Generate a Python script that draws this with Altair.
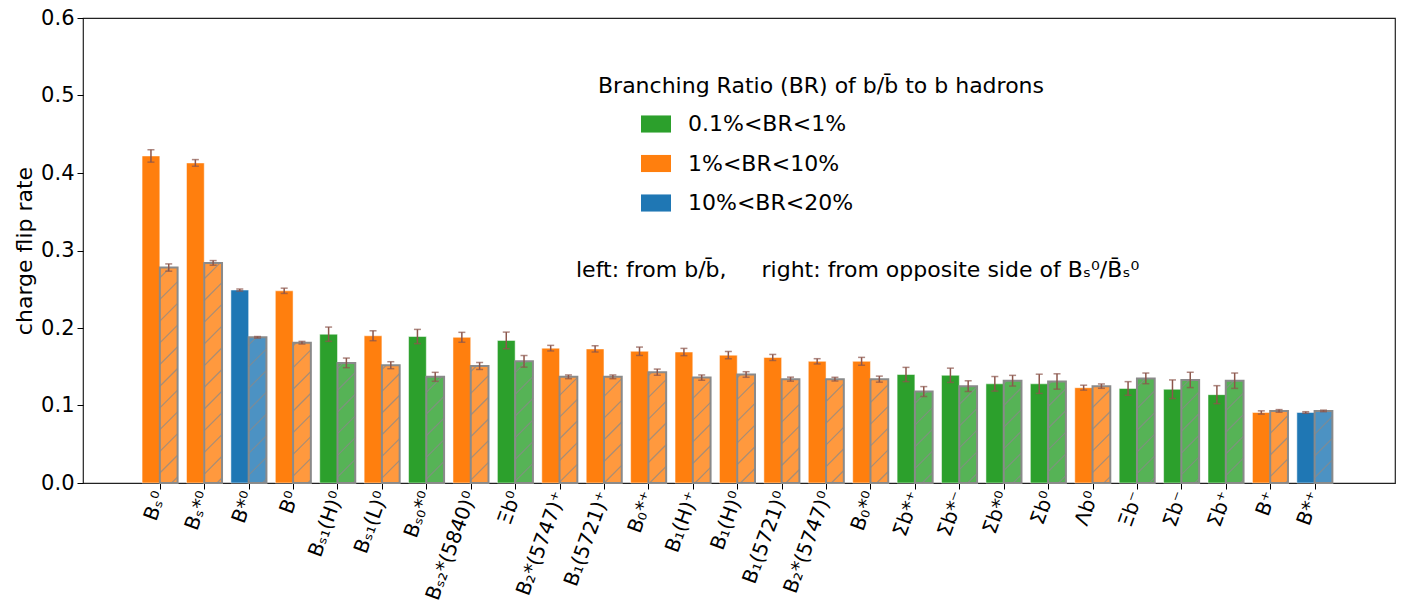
import json
import altair as alt
import pandas as pd

# ---------------- data ----------------
labels = ["Bₛ⁰", "Bₛ*⁰", "B*⁰", "B⁰", "Bₛ₁(H)⁰", "Bₛ₁(L)⁰", "Bₛ₀*⁰", "Bₛ₂*(5840)⁰",
          "Ξb⁰", "B₂*(5747)⁺", "B₁(5721)⁺", "B₀*⁺", "B₁(H)⁺", "B₁(H)⁰", "B₁(5721)⁰",
          "B₂*(5747)⁰", "B₀*⁰", "Σb*⁺", "Σb*⁻", "Σb*⁰", "Σb⁰", "Λb⁰", "Ξb⁻", "Σb⁻",
          "Σb⁺", "B⁺", "B*⁺"]
G, O, B = "0.1%<BR<1%", "1%<BR<10%", "10%<BR<20%"
br_class = [O, O, B, O, G, O, G, O, G, O, O, O, O, O, O, O, O, G, G, G, G, O, G, G, G, O, B]
left_vals = [0.422, 0.413, 0.249, 0.248, 0.192, 0.190, 0.189, 0.188, 0.184, 0.174, 0.173,
             0.170, 0.169, 0.165, 0.162, 0.157, 0.157, 0.140, 0.139, 0.128, 0.128, 0.123,
             0.122, 0.121, 0.114, 0.091, 0.091]
left_errs = [0.008, 0.0043, 0.0013, 0.0034, 0.0092, 0.0064, 0.0092, 0.0064, 0.0107, 0.0036,
             0.004, 0.0054, 0.0047, 0.0047, 0.0039, 0.0034, 0.0051, 0.0092, 0.0092, 0.0094,
             0.0124, 0.0032, 0.0088, 0.012, 0.0116, 0.0021, 0.001]
right_vals = [0.278, 0.284, 0.188, 0.181, 0.155, 0.152, 0.137, 0.151, 0.157, 0.137, 0.137,
              0.143, 0.136, 0.140, 0.134, 0.134, 0.134, 0.118, 0.125, 0.132, 0.131, 0.125,
              0.135, 0.133, 0.132, 0.093, 0.093]
right_errs = [0.0047, 0.003, 0.001, 0.0017, 0.0062, 0.0045, 0.0058, 0.0045, 0.0075, 0.0024,
              0.0024, 0.004, 0.0034, 0.0036, 0.0026, 0.0024, 0.0039, 0.0064, 0.0069, 0.0069,
              0.0099, 0.0028, 0.0069, 0.0099, 0.0099, 0.0017, 0.001]
legend_order = [G, O, B]
legend_colors = ["#2ca02c", "#ff7f0e", "#1f77b4"]

# ---------------- layout ----------------
W, H = 1312, 465
XDOM = [-1.73, 27.81]
YDOM = [0, 0.6]
BARW = 0.4
FONT = "DejaVu Sans"
FS = 22

rows = []
for i in range(len(labels)):
    rows.append(dict(idx=i, side="left", x0=i - BARW, x1=i, xc=i - BARW / 2,
                     v=left_vals[i], lo=left_vals[i] - left_errs[i],
                     hi=left_vals[i] + left_errs[i], cls=br_class[i]))
    rows.append(dict(idx=i, side="right", x0=i, x1=i + BARW, xc=i + BARW / 2,
                     v=right_vals[i], lo=right_vals[i] - right_errs[i],
                     hi=right_vals[i] + right_errs[i], cls=br_class[i]))
df = pd.DataFrame(rows)

# hatch lines ("/") for the right bars, derived from the bar geometry
ppx = W / (XDOM[1] - XDOM[0])
ppy = H / (YDOM[1] - YDOM[0])
SP = 21.7
hatch = []
for r in rows:
    if r["side"] != "right":
        continue
    xl = (r["x0"] - XDOM[0]) * ppx
    w = BARW * ppx
    T = r["v"] * ppy
    k = int((-(xl + w)) // SP) - 1
    while True:
        c = k * SP - xl  # local line: y = x + c
        k += 1
        if c >= T:
            break
        s = max(0.0, -c)
        e = min(w, T - c)
        if s < e - 0.5:
            hatch.append(dict(hx=r["x0"] + s / ppx, hx2=r["x0"] + e / ppx,
                              hy=(s + c) / ppy, hy2=(e + c) / ppy))
hdf = pd.DataFrame(hatch)

xs = alt.Scale(domain=XDOM, nice=False, zero=False)
ys = alt.Scale(domain=YDOM, nice=False)
cscale = alt.Scale(domain=legend_order, range=legend_colors)

label_expr = json.dumps(labels, ensure_ascii=False) + "[datum.value]"

base = alt.Chart(df)

left = base.transform_filter(alt.datum.side == "left").mark_rect(
    stroke="white", strokeWidth=1, strokeOpacity=0.5
).encode(
    x=alt.X("x0:Q", scale=xs,
            axis=alt.Axis(values=list(range(len(labels))), labelExpr=label_expr,
                          labelAngle=-70, labelAlign="right", labelBaseline="middle",
                          labelFontSize=20, labelPadding=3, tickSize=6, title=None,
                          labelOverlap=False, labelBound=False,
                          grid=False, domain=False, labelColor="black", tickColor="black")),
    x2="x1:Q",
    y=alt.Y("v:Q", scale=ys,
            axis=alt.Axis(values=[0, 0.1, 0.2, 0.3, 0.4, 0.5, 0.6], format=".1f",
                          title="charge flip rate", titleFontSize=FS,
                          titleFontWeight="normal", titleColor="black",
                          labelFontSize=21, labelColor="black", tickSize=6,
                          labelOverlap=False, labelPadding=3,
                          tickColor="black", grid=False, domain=False, titlePadding=4)),
    y2=alt.datum(0),
    color=alt.Color("cls:N", scale=cscale, sort=legend_order,
                    legend=alt.Legend(title=None, orient="none", legendX=558, legendY=91,
                                      symbolType="M-1,-0.57H1V0.57H-1Z", symbolSize=900,
                                      symbolStrokeWidth=0, symbolOpacity=1,
                                      labelFontSize=FS, labelColor="black", labelLimit=0,
                                      labelOffset=17, rowPadding=13.5, padding=0)),
)

right = base.transform_filter(alt.datum.side == "right").mark_rect(
    fillOpacity=0.8, stroke="#8a8a8a", strokeWidth=2
).encode(
    x=alt.X("x0:Q", scale=xs), x2="x1:Q",
    y=alt.Y("v:Q", scale=ys), y2=alt.datum(0),
    color=alt.Color("cls:N", scale=cscale, legend=None),
)

hatch_layer = alt.Chart(hdf).mark_rule(color="#8a8a8a", strokeWidth=1.2, opacity=0.75).encode(
    x=alt.X("hx:Q", scale=xs), x2="hx2:Q",
    y=alt.Y("hy:Q", scale=ys), y2="hy2:Q",
)

err = base.mark_rule(color="#8c564b", strokeWidth=1.5).encode(
    x=alt.X("xc:Q", scale=xs), y=alt.Y("lo:Q", scale=ys), y2="hi:Q",
)
cap_lo = base.mark_tick(color="#8c564b", orient="horizontal", size=7, thickness=1.5).encode(
    x=alt.X("xc:Q", scale=xs), y=alt.Y("lo:Q", scale=ys),
)
cap_hi = base.mark_tick(color="#8c564b", orient="horizontal", size=7, thickness=1.5).encode(
    x=alt.X("xc:Q", scale=xs), y=alt.Y("hi:Q", scale=ys),
)

legend_title = alt.Chart(pd.DataFrame({"t": ["Branching Ratio (BR) of b/b̄ to b hadrons"]})).mark_text(
    align="left", baseline="middle", fontSize=FS, font=FONT, color="black"
).encode(x=alt.value(515), y=alt.value(68), text="t:N")

NB = "\u00a0"
note = alt.Chart(pd.DataFrame({"t": ["left: from b/b̄," + NB * 5 + "right: from opposite side of Bₛ⁰/B̄ₛ⁰"]})).mark_text(
    align="left", baseline="middle", fontSize=FS, font=FONT, color="black"
).encode(x=alt.value(493), y=alt.value(252), text="t:N")

chart = alt.layer(left, right, hatch_layer, err, cap_lo, cap_hi, legend_title, note).properties(
    width=W, height=H,
    autosize=alt.AutoSizeParams(type="none"),
    padding={"left": 75, "top": 10, "right": 2, "bottom": 120},
).configure(font=FONT).configure_view(stroke="#222", strokeWidth=1.2)

chart.save("out.html", embed_options={"renderer": "svg", "actions": False})
